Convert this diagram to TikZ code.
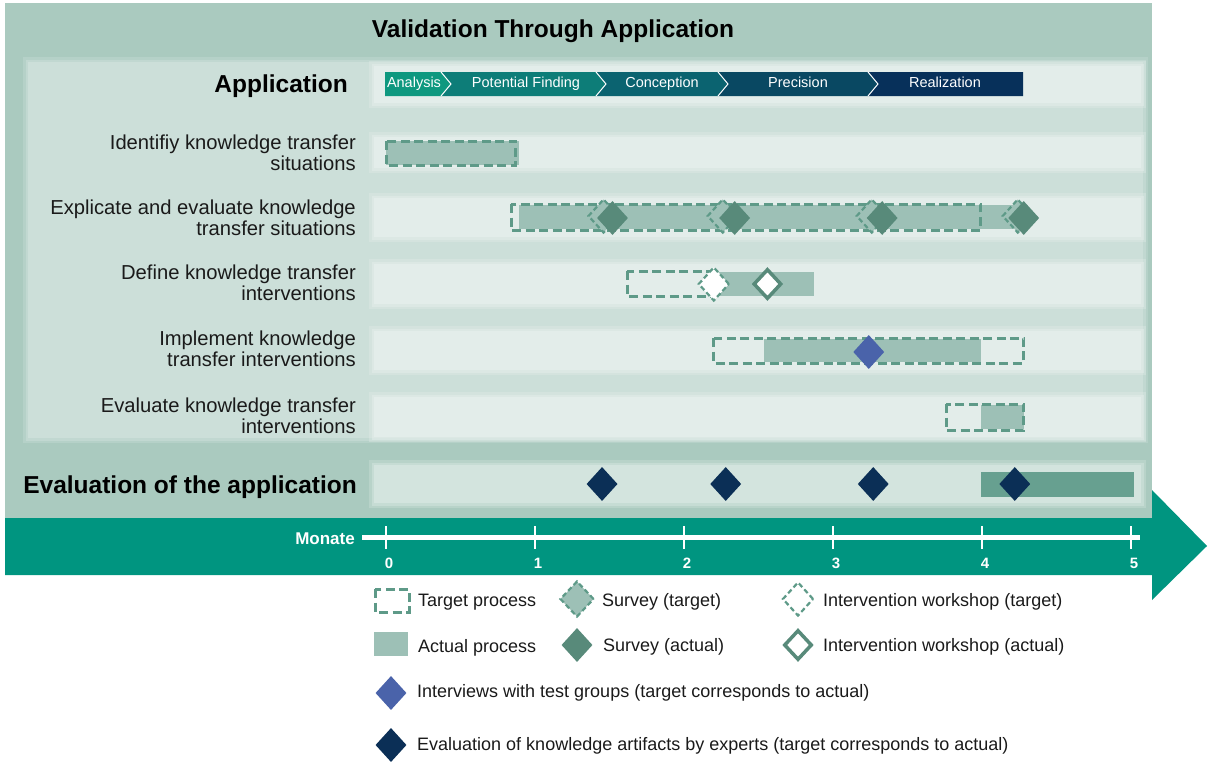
\documentclass[tikz,border=0pt]{standalone}
\usepackage{fontspec}
\setmainfont{Liberation Sans}
\usepackage{xcolor}
\usetikzlibrary{shapes.geometric,calc,positioning}
\definecolor{outersage}{HTML}{AACABF}
\definecolor{innersage}{HTML}{CCDFD9}
\definecolor{rowmist}{HTML}{E3EDEA}
\definecolor{evalmist}{HTML}{D3E4DE}
\definecolor{bandteal}{HTML}{009580}
\definecolor{dashgreen}{HTML}{5E9A88}
\definecolor{actualfill}{HTML}{9DC0B6}
\definecolor{surveygreen}{HTML}{588A7A}
\definecolor{evalgreen}{HTML}{67A090}
\definecolor{interviewblue}{HTML}{4A63AA}
\definecolor{expertnavy}{HTML}{0B2F56}
\definecolor{inkgray}{HTML}{1A1A1A}
\definecolor{phaseA}{HTML}{0E987F}
\definecolor{phaseB}{HTML}{0D7D78}
\definecolor{phaseC}{HTML}{0B6370}
\definecolor{phaseD}{HTML}{094862}
\definecolor{phaseE}{HTML}{07305A}

% soft edged panel: two faint rings, then the solid box
\newcommand\glowbox[3]{%
  \fill[#1,opacity=0.35] ($#2+(-5,-5)$) rectangle ($#3+(5,5)$);
  \fill[#1,opacity=0.55] ($#2+(-2.5,-2.5)$) rectangle ($#3+(2.5,2.5)$);
  \fill[#1] #2 rectangle #3;}

\begin{document}
\begin{tikzpicture}[
  x=1pt,y=-1pt,
  every node/.style={inner sep=0pt},
  rowlabel/.style={font=\fontsize{20.2}{21}\selectfont,align=right,anchor=east,text=inkgray},
  header/.style={font=\fontsize{24.5}{28}\selectfont\bfseries,anchor=east,text=black},
  phaselab/.style={font=\fontsize{14.5}{16}\selectfont,text=white,text height=10.5pt,text depth=3pt},
  monthlab/.style={font=\fontsize{15}{17}\selectfont\bfseries,text=white,text height=11pt,text depth=0pt},
  legendlab/.style={font=\fontsize{18}{20}\selectfont,anchor=west,text=inkgray},
  target/.style={draw=dashgreen,line width=3pt,dash pattern=on 9pt off 4.5pt},
  actual/.style={fill=actualfill},
  gem/.style={diamond,minimum width=31pt,minimum height=34pt,inner sep=0pt},
  surveytarget/.style={gem,fill=actualfill,draw=dashgreen,line width=2.2pt,dash pattern=on 5pt off 3pt},
  surveyactual/.style={gem,fill=surveygreen},
  workshoptarget/.style={gem,fill=white,draw=dashgreen,line width=2.2pt,dash pattern=on 5pt off 3pt},
  workshopactual/.style={gem,minimum width=28pt,minimum height=30pt,fill=white,draw=surveygreen,line width=3.5pt},
  interview/.style={gem,fill=interviewblue},
  expert/.style={gem,fill=expertnavy}
]
  \useasboundingbox (0,0) rectangle (1208,763);

  % panels
  \fill[outersage] (5,3) rectangle (1152,518);
  \glowbox{innersage}{(28,62)}{(1143,438)}
  \glowbox{rowmist}{(374,66)}{(1141,103)}
  \glowbox{rowmist}{(374,137)}{(1141,168)}
  \glowbox{rowmist}{(374,198)}{(1141,237)}
  \glowbox{rowmist}{(374,264)}{(1141,304)}
  \glowbox{rowmist}{(374,331)}{(1141,370)}
  \glowbox{rowmist}{(374,397)}{(1141,437)}
  \glowbox{evalmist}{(374,465)}{(1141,503)}

  \node[font=\fontsize{24.5}{28}\selectfont\bfseries] (title) at (553,31) {Validation Through Application};

  % phase chevrons
  \fill[phaseA] (385,72) -- (441,72) -- (451,84) -- (441,96) -- (385,96) -- cycle;
  \fill[phaseB] (441,72) -- (596,72) -- (606,84) -- (596,96) -- (441,96) -- (451,84) -- cycle;
  \fill[phaseC] (596,72) -- (718,72) -- (728,84) -- (718,96) -- (596,96) -- (606,84) -- cycle;
  \fill[phaseD] (718,72) -- (868,72) -- (878,84) -- (868,96) -- (718,96) -- (728,84) -- cycle;
  \fill[phaseE] (868,72) -- (1023,72) -- (1023,96) -- (868,96) -- (878,84) -- cycle;
  \foreach \bx in {441,596,718,868}
    \draw[white,line width=1pt] (\bx,72) -- (\bx+10,84) -- (\bx,96);
  \node[phaselab] (ph1) at (414,84) {Analysis};
  \node[phaselab] (ph2) at (526,84) {Potential Finding};
  \node[phaselab] (ph3) at (662,84) {Conception};
  \node[phaselab] (ph4) at (798,84) {Precision};
  \node[phaselab] (ph5) at (945,84) {Realization};

  % row labels
  \node[header] (applab) at (348,86) {Application};
  \node[rowlabel] (lab1) at (356,153) {Identifiy knowledge transfer\\situations};
  \node[rowlabel] (lab2) at (356,218) {Explicate and evaluate knowledge\\transfer situations};
  \node[rowlabel] (lab3) at (356,283) {Define knowledge transfer\\interventions};
  \node[rowlabel] (lab4) at (356,349) {Implement knowledge\\transfer interventions};
  \node[rowlabel] (lab5) at (356,416) {Evaluate knowledge transfer\\interventions};
  \node[header] (evallab) at (357,487) {Evaluation of the application};

  % time band
  \fill[bandteal] (5,518) -- (1152,518) -- (1152,490) -- (1207,546) -- (1152,600)
    -- (1152,575) -- (5,575) -- cycle;
  \node[anchor=east,text=white,font=\fontsize{17}{19}\selectfont\bfseries] (monate) at (355,539) {Monate};
  \coordinate (tstart) at (362,537);
  \coordinate (tend) at (1140,537);
  \draw[white,line width=5pt] (tstart) -- (tend);

  % bars and milestones, x in months
  \begin{scope}[shift={(386,0)},x=149pt]
    \foreach \m in {0,...,5} {
      \draw[white,line width=2.5pt] (\m,526) -- (\m,549);
      \node[monthlab] (m\m) at (\m+0.02,563) {\m};
    }

    \fill[actual] (0,141) rectangle (0.89,165);
    \draw[target] (0,141) rectangle (0.87,165);

    \fill[actual] (0.89,205) rectangle (4.26,229);
    \draw[target] (0.84,204) rectangle (3.99,230);
    \foreach \t/\a [count=\i] in {1.46/1.52,2.26/2.34,3.26/3.33,4.24/4.28} {
      \node[surveytarget] (st\i) at (\t,216) {};
      \node[surveyactual] (sa\i) at (\a,218) {};
    }

    \fill[actual] (2.2,272) rectangle (2.87,296);
    \draw[target] (1.62,271) rectangle (2.2,296);
    \node[workshoptarget] (wt) at (2.2,284) {};
    \node[workshopactual] (wa) at (2.56,284) {};

    \fill[actual] (2.54,339) rectangle (3.99,362);
    \draw[target] (2.2,338) rectangle (4.28,363);
    \node[interview] (iv) at (3.24,352) {};

    \fill[actual] (3.99,405) rectangle (4.28,429);
    \draw[target] (3.76,404) rectangle (4.28,430);

    \fill[evalgreen] (3.99,472) rectangle (5.02,497);
    \foreach \e [count=\i] in {1.45,2.28,3.27,4.22}
      \node[expert] (ex\i) at (\e,484) {};
  \end{scope}

  % legend
  \draw[target] (375,589) rectangle (409,612);
  \node[legendlab] (lgtp) at (418,602) {Target process};
  \node[surveytarget,minimum width=34pt,minimum height=36pt] (lgst) at (577,599) {};
  \node[legendlab] (lgstl) at (602,602) {Survey (target)};
  \node[workshoptarget] (lgwt) at (798,599) {};
  \node[legendlab] (lgwtl) at (823,602) {Intervention workshop (target)};

  \fill[actual] (374,632) rectangle (408,656);
  \node[legendlab] (lgap) at (418,648) {Actual process};
  \node[surveyactual] (lgsa) at (577,645) {};
  \node[legendlab] (lgsal) at (603,647) {Survey (actual)};
  \node[workshopactual] (lgwa) at (798,645) {};
  \node[legendlab] (lgwal) at (823,647) {Intervention workshop (actual)};

  \node[interview] (lgiv) at (391,693) {};
  \node[legendlab] (lgivl) at (417,693) {Interviews with test groups (target corresponds to actual)};
  \node[expert] (lgex) at (391,745) {};
  \node[legendlab] (lgexl) at (417,746) {Evaluation of knowledge artifacts by experts (target corresponds to actual)};
\end{tikzpicture}
\end{document}
